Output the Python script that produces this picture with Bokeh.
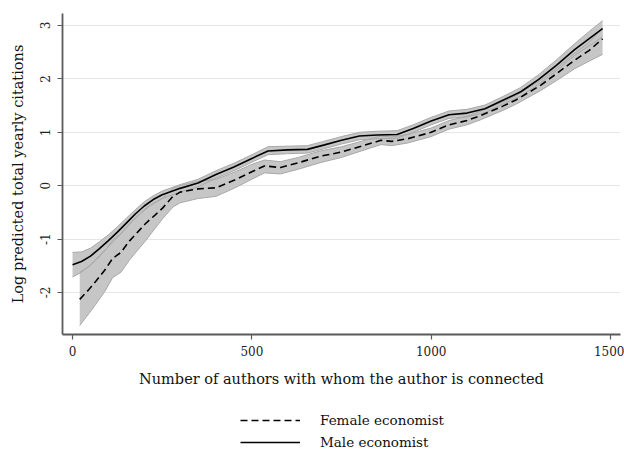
from bokeh.plotting import figure
from bokeh.layouts import column
from bokeh.models import Range1d, FixedTicker, Legend, LegendItem
from bokeh.embed import file_html
from bokeh.resources import INLINE

# ---- data ----
male_x = [0, 25, 50, 75, 100, 125, 150, 175, 200, 225, 250, 300, 350, 400, 450, 500,
          545, 600, 655, 700, 750, 800, 850, 905, 950, 1000, 1050, 1100, 1150, 1200,
          1250, 1300, 1350, 1400, 1450, 1478]
male_mean = [-1.48, -1.42, -1.32, -1.18, -1.03, -0.87, -0.70, -0.53, -0.38, -0.26, -0.17,
             -0.05, 0.05, 0.21, 0.35, 0.51, 0.65, 0.67, 0.68, 0.76, 0.85, 0.93, 0.95, 0.96,
             1.07, 1.21, 1.33, 1.36, 1.44, 1.60, 1.76, 1.99, 2.26, 2.55, 2.80, 2.94]
male_hi = [-1.25, -1.24, -1.17, -1.05, -0.92, -0.77, -0.61, -0.45, -0.30, -0.19, -0.10,
           0.02, 0.12, 0.28, 0.42, 0.58, 0.73, 0.74, 0.75, 0.83, 0.92, 1.00, 1.02, 1.03,
           1.14, 1.28, 1.40, 1.43, 1.51, 1.67, 1.84, 2.08, 2.36, 2.66, 2.94, 3.09]
male_lo = [-1.71, -1.62, -1.48, -1.31, -1.14, -0.97, -0.79, -0.61, -0.46, -0.33, -0.24,
           -0.12, -0.02, 0.14, 0.28, 0.44, 0.58, 0.60, 0.61, 0.69, 0.78, 0.86, 0.88, 0.89,
           1.00, 1.14, 1.26, 1.29, 1.37, 1.53, 1.68, 1.90, 2.16, 2.44, 2.66, 2.79]

female_x = [20, 45, 65, 90, 112, 135, 158, 180, 205, 230, 251, 280, 300, 350, 400, 450,
            500, 535, 580, 630, 690, 750, 805, 860, 890, 935, 1000, 1050, 1100, 1140,
            1200, 1235, 1305, 1350, 1400, 1440, 1478]
female_mean = [-2.13, -1.95, -1.79, -1.58, -1.36, -1.25, -1.04, -0.88, -0.70, -0.55, -0.42,
               -0.20, -0.12, -0.06, -0.04, 0.10, 0.26, 0.37, 0.34, 0.43, 0.55, 0.63, 0.74,
               0.85, 0.83, 0.88, 1.00, 1.14, 1.22, 1.32, 1.49, 1.60, 1.88, 2.10, 2.35,
               2.53, 2.75]
female_lo = [-2.62, -2.40, -2.22, -1.98, -1.72, -1.62, -1.40, -1.22, -1.02, -0.80, -0.62,
             -0.40, -0.32, -0.24, -0.20, -0.05, 0.12, 0.24, 0.22, 0.31, 0.43, 0.53, 0.65,
             0.77, 0.75, 0.80, 0.92, 1.06, 1.14, 1.24, 1.41, 1.52, 1.78, 1.97, 2.19,
             2.33, 2.46]
female_hi = [-1.62, -1.52, -1.40, -1.22, -1.02, -0.90, -0.72, -0.58, -0.42, -0.32, -0.24,
             -0.05, 0.00, 0.08, 0.12, 0.25, 0.40, 0.48, 0.45, 0.53, 0.65, 0.73, 0.83,
             0.93, 0.91, 0.96, 1.08, 1.22, 1.30, 1.40, 1.57, 1.68, 1.97, 2.20, 2.48,
             2.68, 2.96]

x_ticks = [0, 500, 1000, 1500]
y_ticks = [-2, -1, 0, 1, 2, 3]
x_label = "Number of authors with whom the author is connected"
y_label = "Log predicted total yearly citations"
series_names = ["Female economist", "Male economist"]

FONT = "DejaVu Serif"
W = 624

p = figure(width=W, height=400, output_backend="svg", toolbar_location=None,
           x_range=Range1d(-28, 1528), y_range=Range1d(-2.787, 3.225),
           min_border_left=62, min_border_top=13, min_border_right=4, min_border_bottom=66)
p.outline_line_color = None
p.background_fill_color = "white"

# bands
band_fill = "#c6c6c6"
band_edge = "#a8a8a8"
p.varea(x=female_x, y1=female_lo, y2=female_hi, fill_color=band_fill)
p.varea(x=male_x, y1=male_lo, y2=male_hi, fill_color=band_fill)
for xs, ys in [(female_x, female_lo), (female_x, female_hi), (male_x, male_lo), (male_x, male_hi)]:
    p.line(xs, ys, line_color=band_edge, line_width=1)

dash = "7 4"
p.line(female_x, female_mean, line_color="black", line_width=1.6, line_dash=dash)
p.line(male_x, male_mean, line_color="black", line_width=1.6)

# axes
for ax in (p.xaxis[0], p.yaxis[0]):
    ax.axis_line_color = "#5a5a5a"
    ax.axis_line_width = 1.8
    ax.major_tick_line_color = "#5a5a5a"
    ax.major_tick_line_width = 1.2
    ax.major_tick_out = 5
    ax.major_tick_in = 0
    ax.minor_tick_line_color = None
    ax.major_label_text_font = FONT
    ax.major_label_text_font_size = "12px"
    ax.major_label_text_color = "#222222"
    ax.axis_label_text_font = FONT
    ax.axis_label_text_font_size = "14.5px"
    ax.axis_label_text_font_style = "normal"
    ax.axis_label_text_color = "#111111"

p.xaxis.ticker = FixedTicker(ticks=x_ticks)
p.yaxis.ticker = FixedTicker(ticks=y_ticks)
p.yaxis.major_label_overrides = {t: str(t) for t in y_ticks}
p.xaxis.axis_label = x_label
p.yaxis.axis_label = y_label
p.yaxis.major_label_orientation = "vertical"
p.xaxis.major_label_standoff = 6
p.yaxis.major_label_standoff = 7
p.xaxis.axis_label_standoff = 12
p.yaxis.axis_label_standoff = 12

p.xgrid.grid_line_color = None
p.ygrid.grid_line_color = "#e6e6e6"
p.ygrid.grid_line_width = 1.2

# legend strip below the chart (its frame is aligned with the chart's frame);
# the series are drawn again there only so the legend has glyphs, outside its visible range
lg = figure(width=W, height=52, output_backend="svg", toolbar_location=None,
            x_axis_type=None, y_axis_type=None,
            x_range=Range1d(-28, 1528), y_range=Range1d(100, 101),
            min_border_left=62, min_border_right=4, min_border_top=0, min_border_bottom=0)
lg.outline_line_color = None
lg.xgrid.grid_line_color = None
lg.ygrid.grid_line_color = None
r_f = lg.line(female_x, female_mean, line_color="black", line_width=1.6, line_dash=dash)
r_m = lg.line(male_x, male_mean, line_color="black", line_width=1.6)
legend = Legend(items=[LegendItem(label=series_names[0], renderers=[r_f]),
                       LegendItem(label=series_names[1], renderers=[r_m])],
                location=(178, 0), orientation="vertical",
                glyph_width=60, glyph_height=20, label_height=20, spacing=2,
                label_standoff=20, padding=0, margin=0,
                border_line_color=None, background_fill_alpha=0,
                label_text_font=FONT, label_text_font_size="13.5px",
                label_text_color="#111111")
lg.add_layout(legend, "center")

layout = column(p, lg, spacing=0)
open("out.html", "w").write(file_html(layout, INLINE))
